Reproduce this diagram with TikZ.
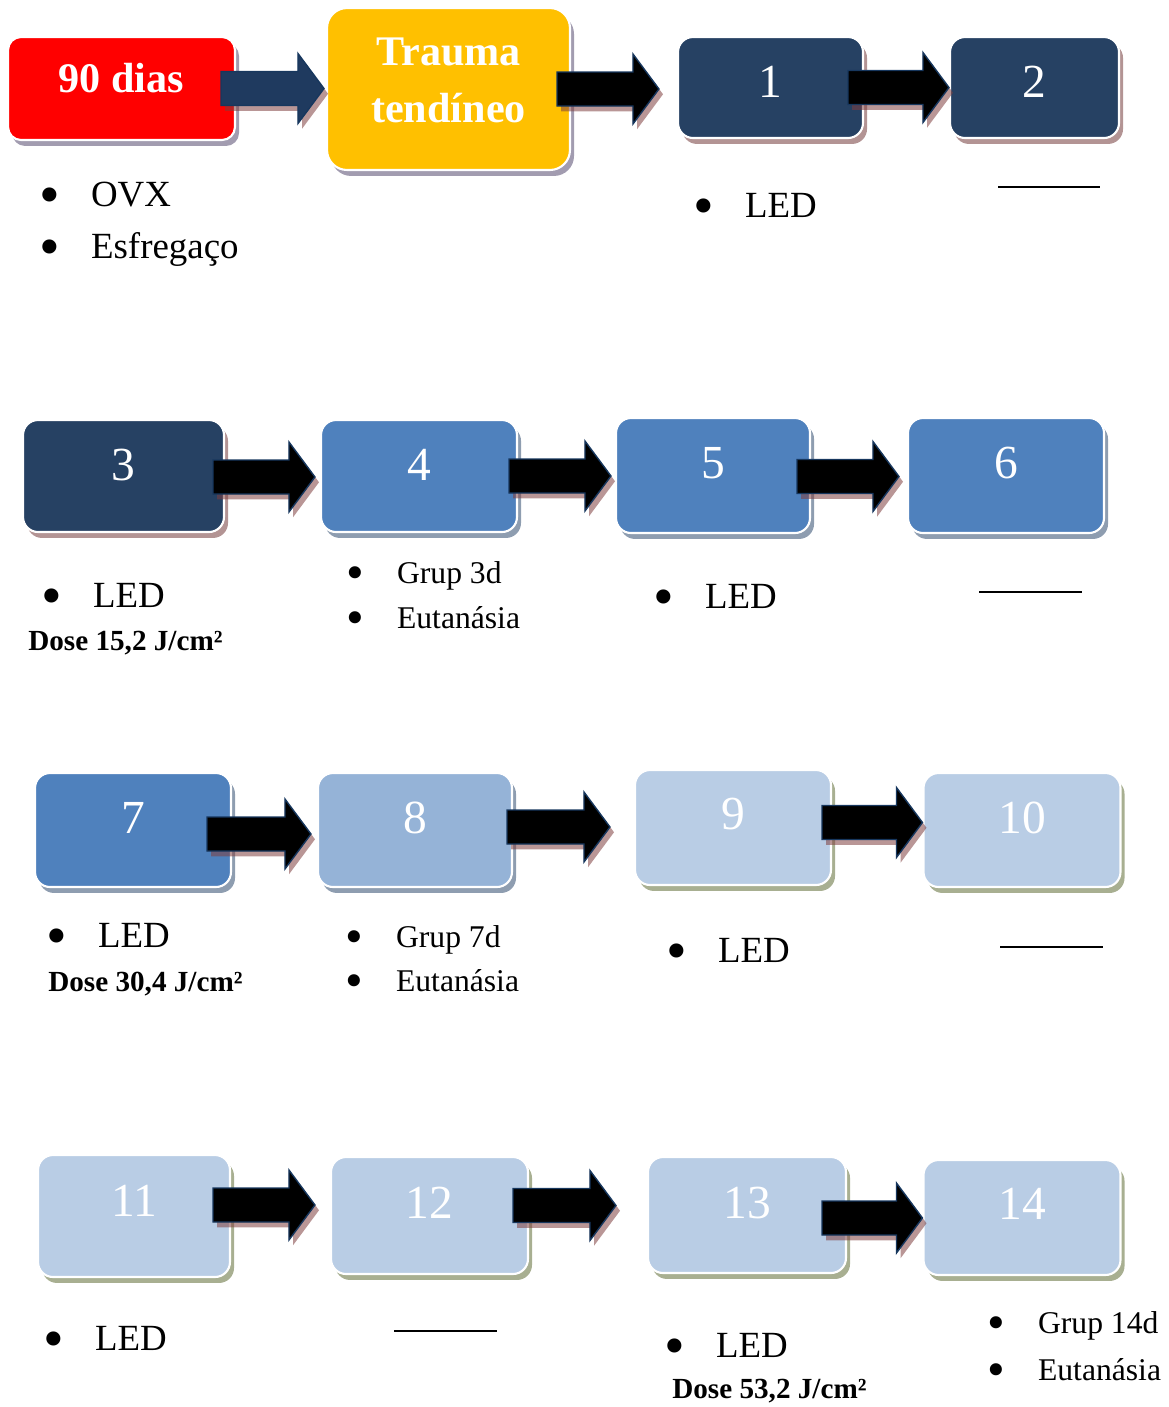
\documentclass[tikz,border=0pt]{standalone}
\usepackage{fontspec}
\setmainfont{Liberation Serif}
\usepackage{graphicx}
\usepackage{tikz}
\usetikzlibrary{calc,shadows}

\definecolor{navybox}{HTML}{264163}
\definecolor{midblue}{HTML}{4F81BD}
\definecolor{paleblue}{HTML}{95B3D7}
\definecolor{lightblue}{HTML}{B9CDE5}
\definecolor{redbox}{HTML}{FF0000}
\definecolor{goldbox}{HTML}{FFC000}
\definecolor{arrownavy}{HTML}{1F3A5F}
\definecolor{arrowline}{HTML}{17375E}
\definecolor{shadered}{HTML}{B39494}
\definecolor{shadegray}{HTML}{A29CB0}
\definecolor{shadeblue}{HTML}{8E9DB0}
\definecolor{shadeolive}{HTML}{A8AF91}
\definecolor{arrowshade}{HTML}{7F3F3F}

\newcommand{\numfont}{\fontsize{27}{27}\selectfont}
\newcommand{\titlefont}{\fontsize{24}{32.4}\selectfont\bfseries}
\newcommand{\itemfont}{\fontsize{21}{25}\selectfont}
\newcommand{\grpfont}{\fontsize{18}{22}\selectfont}
\newcommand{\dosefont}{\fontsize{16.6}{20}\selectfont\bfseries}
\newcommand{\bul}{\makebox[26.6pt][l]{\hspace{-0.12em}\smash{\raisebox{-0.22em}{\scalebox{1.6}{\textbullet}}}}}

% block arrow from #2 to #3: #4 overlap into #2, #5 gap before #3, #6 vertical offset
\newcommand{\flowarrow}[6][black]{%
  \coordinate (fa-s) at ($(#2.east)+(-#4,#6)$);
  \coordinate (fa-t) at ($(#3.west |- #2.east)+(-#5,#6)$);
  \draw[blockarrow,fill=#1] ($(fa-s)+(0,-17)$) -- ($(fa-t)+(-26,-17)$) -- ($(fa-t)+(-26,-35)$)
    -- (fa-t) -- ($(fa-t)+(-26,35)$) -- ($(fa-t)+(-26,17)$) -- ($(fa-s)+(0,17)$) -- cycle;
}

\begin{document}
\begin{tikzpicture}[x=0.02cm,y=-0.02cm]
  \tikzstyle{box}=[rounded corners=0.3cm,draw=white,line width=1.2pt,text=white,
    font=\numfont,text height=18.3pt,inner sep=0pt]
  \tikzstyle{darkbox}=[box,fill=navybox,drop shadow={shadow xshift=2.3pt,shadow yshift=-3.4pt,fill=shadered,opacity=1}]
  \tikzstyle{bluebox}=[box,fill=midblue,drop shadow={shadow xshift=2.3pt,shadow yshift=-3.4pt,fill=shadeblue,opacity=1}]
  \tikzstyle{palebox}=[box,fill=paleblue,drop shadow={shadow xshift=2.3pt,shadow yshift=-3.4pt,fill=shadeblue,opacity=1}]
  \tikzstyle{lightbox}=[box,fill=lightblue,drop shadow={shadow xshift=2.3pt,shadow yshift=-3.4pt,fill=shadeolive,opacity=1}]
  \tikzstyle{blockarrow}=[draw=arrowline,line width=0.8pt,line join=miter,
    drop shadow={shadow xshift=2.3pt,shadow yshift=-3pt,fill=arrowshade,opacity=.55}]
  \tikzstyle{txt}=[anchor=base west,inner sep=0pt]

  \useasboundingbox (0,0) rectangle (1169,1407);

  % first row
  \node[box,fill=redbox,rounded corners=0.26cm,minimum width=4.54cm,minimum height=2.06cm,
    font=\titlefont,text height=16.2pt,text depth=11.4pt,
    drop shadow={shadow xshift=2.3pt,shadow yshift=-3.4pt,fill=shadegray,opacity=1}]
    (d90) at (121.5,88.5) {90 dias};
  \node[box,fill=goldbox,rounded corners=0.4cm,minimum width=4.86cm,minimum height=3.24cm,
    font=\titlefont,align=center,text height=37.6pt,text depth=0pt,
    drop shadow={shadow xshift=2.3pt,shadow yshift=-3.4pt,fill=shadegray,opacity=1}]
    (trauma) at (448.5,89) {Trauma\\tendíneo};
  \node[darkbox,minimum width=3.7cm,minimum height=2.02cm,text depth=7.4pt] (b1) at (770.5,87.5) {1};
  \node[darkbox,minimum width=3.38cm,minimum height=2.02cm,text depth=7.4pt] (b2) at (1034.5,87.5) {2};

  % second row
  \node[darkbox,minimum width=4.02cm,minimum height=2.24cm,text depth=13.7pt] (b3) at (123.5,476) {3};
  \node[bluebox,minimum width=3.92cm,minimum height=2.24cm,text depth=13.7pt] (b4) at (419,476) {4};
  \node[bluebox,minimum width=3.88cm,minimum height=2.3cm,text depth=15.4pt] (b5) at (713,475.5) {5};
  \node[bluebox,minimum width=3.92cm,minimum height=2.3cm,text depth=15.4pt] (b6) at (1006,475.5) {6};

  % third row
  \node[bluebox,minimum width=3.92cm,minimum height=2.28cm,text depth=14.8pt] (b7) at (133,830) {7};
  \node[palebox,minimum width=3.88cm,minimum height=2.28cm,text depth=14.8pt] (b8) at (415,830) {8};
  \node[lightbox,minimum width=3.92cm,minimum height=2.3cm,text depth=16.5pt] (b9) at (733,827.5) {9};
  \node[lightbox,minimum width=3.94cm,minimum height=2.28cm,text depth=14.8pt] (b10) at (1022,830) {10};

  % fourth row
  \node[lightbox,minimum width=3.84cm,minimum height=2.44cm,text depth=18.2pt] (b11) at (134,1216) {11};
  \node[lightbox,minimum width=3.94cm,minimum height=2.34cm,text depth=15.4pt] (b12) at (429.5,1215.5) {12};
  \node[lightbox,minimum width=3.96cm,minimum height=2.32cm,text depth=14.8pt] (b13) at (747,1215) {13};
  \node[lightbox,minimum width=3.94cm,minimum height=2.3cm,text depth=16.5pt] (b14) at (1022,1217.5) {14};

  % arrows
  \flowarrow[arrownavy]{d90}{trauma}{15}{2}{0}
  \flowarrow{trauma}{b1}{14}{18}{0}
  \flowarrow{b1}{b2}{16}{0}{0}
  \flowarrow{b3}{b4}{12}{5}{1}
  \flowarrow{b4}{b5}{9}{4}{0}
  \flowarrow{b5}{b6}{14}{8}{1}
  \flowarrow{b7}{b8}{25}{6}{4}
  \flowarrow{b8}{b9}{6}{24}{-3}
  \flowarrow{b9}{b10}{10}{0}{-5}
  \flowarrow{b11}{b12}{18}{15}{-11}
  \flowarrow{b12}{b13}{16}{31}{-10}
  \flowarrow{b13}{b14}{25}{0}{3}

  % notes under the boxes
  \node[txt,font=\itemfont] (ovx) at (44,206) {\bul OVX};
  \node[txt,font=\itemfont] (esf) at (44,258) {\bul Esfregaço};
  \node[txt,font=\itemfont] (led1) at (698,217) {\bul LED};
  \draw[line width=1.1pt] (998,187) -- (1100,187);

  \node[txt,font=\itemfont] (led3) at (46,607) {\bul LED};
  \node[txt,font=\dosefont] (dose3) at (28,650) {Dose 15,2 J/cm²};
  \node[txt,font=\grpfont] (grp3) at (350,583) {\bul Grup 3d};
  \node[txt,font=\grpfont] (eut3) at (350,628) {\bul Eutanásia};
  \node[txt,font=\itemfont] (led5) at (658,608) {\bul LED};
  \draw[line width=1.1pt] (979,592) -- (1082,592);

  \node[txt,font=\itemfont] (led7) at (51,947) {\bul LED};
  \node[txt,font=\dosefont] (dose7) at (48,991) {Dose 30,4 J/cm²};
  \node[txt,font=\grpfont] (grp7) at (349,947) {\bul Grup 7d};
  \node[txt,font=\grpfont] (eut7) at (349,991) {\bul Eutanásia};
  \node[txt,font=\itemfont] (led9) at (671,962) {\bul LED};
  \draw[line width=1.1pt] (1000,947) -- (1103,947);

  \node[txt,font=\itemfont] (led11) at (48,1350) {\bul LED};
  \draw[line width=1.1pt] (394,1331) -- (497,1331);
  \node[txt,font=\itemfont] (led13) at (669,1357) {\bul LED};
  \node[txt,font=\dosefont] (dose13) at (672,1398) {Dose 53,2 J/cm²};
  \node[txt,font=\grpfont] (grp14) at (991,1333) {\bul Grup 14d};
  \node[txt,font=\grpfont] (eut14) at (991,1380) {\bul Eutanásia};
\end{tikzpicture}
\end{document}
